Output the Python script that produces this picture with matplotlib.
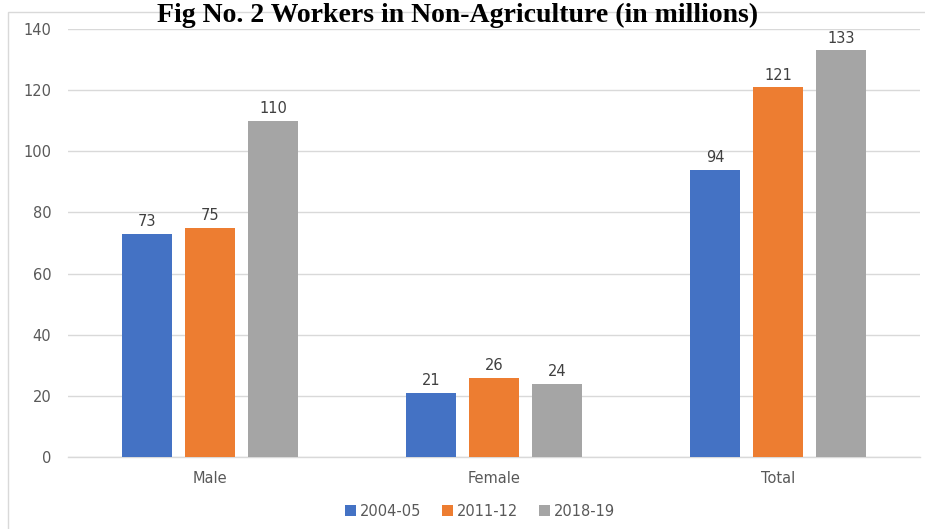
import matplotlib.pyplot as plt
import numpy as np
from matplotlib.patches import Rectangle

# Data
categories = ['Male', 'Female', 'Total']
series_names = ['2004-05', '2011-12', '2018-19']
v_2004 = [73, 21, 94]
v_2011 = [75, 26, 121]
v_2018 = [110, 24, 133]

colors = ['#4472C4', '#ED7D31', '#A5A5A5']
TEXT_GRAY = '#595959'
LABEL_GRAY = '#404040'
FONT = ['DejaVu Sans']

# --- Figure setup ---
fig = plt.figure(figsize=(9.25, 5.29), dpi=100)
ax = fig.add_axes([68 / 925, 1 - 457 / 529, (920 - 68) / 925, (457 - 29) / 529])

# Chart border (light gray frame, partly off-canvas like the screenshot)
fig.patches.append(Rectangle((8 / 925, -0.05), 1.2, 1 - 12 / 529 + 0.05,
                             transform=fig.transFigure, fill=False,
                             edgecolor='#D9D9D9', linewidth=1.0, zorder=0))

# --- Bars ---
x = np.arange(len(categories))
width = 0.176
pitch = 0.222
for i, (vals, name) in enumerate(zip([v_2004, v_2011, v_2018], series_names)):
    pos = x + (i - 1) * pitch
    bars = ax.bar(pos, vals, width, color=colors[i], label=name, zorder=3)
    for b, v in zip(bars, vals):
        ax.text(b.get_x() + b.get_width() / 2, v + 1.5, str(v), ha='center', va='bottom',
                fontsize=10.5, color=LABEL_GRAY, family=FONT)

# --- Axes styling ---
ax.set_xlim(-0.5, 2.5)
ax.set_ylim(0, 140)
ax.set_yticks(range(0, 141, 20))
ax.yaxis.grid(True, color='#D9D9D9', linewidth=1.0, zorder=0)
ax.set_axisbelow(True)
for s in ['top', 'right', 'left']:
    ax.spines[s].set_visible(False)
ax.spines['bottom'].set_color('#D9D9D9')
ax.spines['bottom'].set_linewidth(1.0)
ax.tick_params(axis='both', length=0, colors=TEXT_GRAY, labelsize=10.5)
ax.tick_params(axis='y', pad=12)
ax.tick_params(axis='x', pad=10)
ax.set_xticks(x)
ax.set_xticklabels(categories)
for lab in ax.get_xticklabels() + ax.get_yticklabels():
    lab.set_family(FONT)
    lab.set_color(TEXT_GRAY)

# --- Legend ---
leg = fig.legend(loc='center', bbox_to_anchor=(480 / 925, 1 - 511 / 529), ncol=3,
                 frameon=False, handlelength=0.75, handleheight=0.75, handletextpad=0.3,
                 columnspacing=1.4, prop={'family': FONT, 'size': 10.5})
for t in leg.get_texts():
    t.set_color(TEXT_GRAY)

# --- Title ---
fig.text(458 / 925, 1 - 22 / 529, 'Fig No. 2 Workers in Non-Agriculture (in millions)',
         ha='center', va='baseline', fontsize=20, fontweight='bold',
         family=['Liberation Serif', 'DejaVu Serif'])

plt.savefig('out.png', dpi=100)
